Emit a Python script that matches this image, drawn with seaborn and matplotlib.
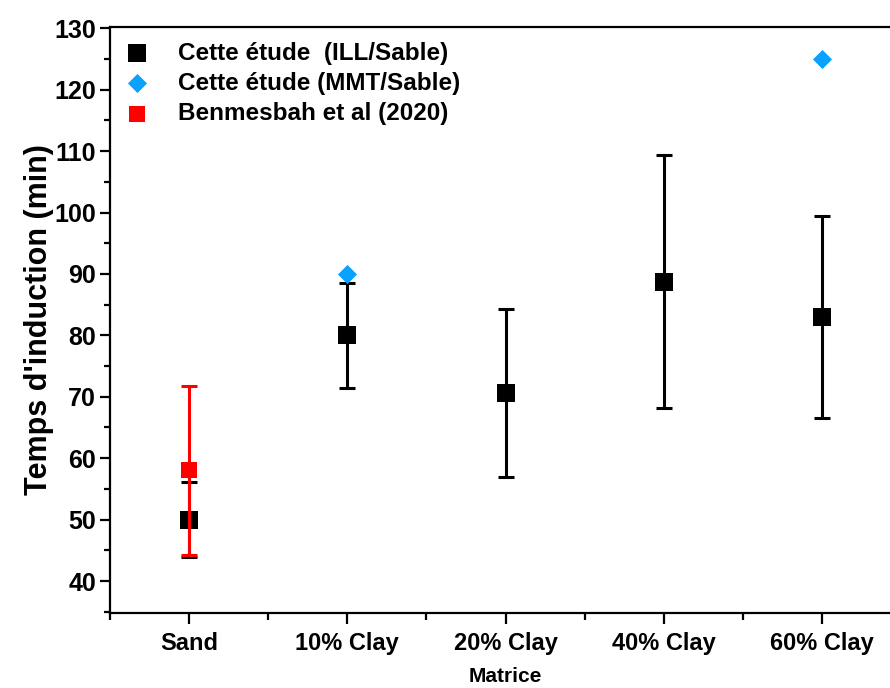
import matplotlib
matplotlib.use("Agg")
import matplotlib.pyplot as plt
import seaborn as sns
import pandas as pd
from matplotlib.ticker import MultipleLocator

# data
matrices = ["Sand", "10% Clay", "20% Clay", "40% Clay", "60% Clay"]
ill_mean = [50.0, 80.0, 70.6, 88.7, 83.0]
ill_err = [6.1, 8.5, 13.7, 20.6, 16.4]
mmt_matrices = ["10% Clay", "60% Clay"]
mmt_vals = [90.0, 125.0]
ref_matrices = ["Sand"]
ref_vals = [58.0]
ref_err = [13.8]

sns.set_theme(style="ticks")
plt.rcParams['font.family'] = ['Liberation Sans', 'DejaVu Sans']
plt.rcParams['font.weight'] = 'bold'
for key in ['text.color', 'axes.labelcolor', 'xtick.color', 'ytick.color', 'axes.edgecolor']:
    plt.rcParams[key] = 'black'

fig = plt.figure(figsize=(8.9, 6.88), dpi=100, facecolor='w')
ax = fig.add_axes([110 / 890, 75 / 688, 791 / 890, 586 / 688])

ill_df = pd.DataFrame({"Matrice": matrices, "temps": ill_mean, "err": ill_err})
mmt_df = pd.DataFrame({"Matrice": mmt_matrices, "temps": mmt_vals})
ref_df = pd.DataFrame({"Matrice": ref_matrices, "temps": ref_vals, "err": ref_err})

ax.errorbar(ill_df.Matrice, ill_df.temps, yerr=ill_df.err, fmt='none', ecolor='black',
            elinewidth=2.2, capsize=5.5, capthick=2.2, zorder=2)
sns.scatterplot(data=ill_df, x="Matrice", y="temps", marker='s', s=150, color='black',
                edgecolor='black', linewidth=0, ax=ax, zorder=3, label="Cette étude  (ILL/Sable)")
sns.scatterplot(data=mmt_df, x="Matrice", y="temps", marker='D', s=95, color='#0aa2ff',
                edgecolor='#0aa2ff', linewidth=0, ax=ax, zorder=3, label="Cette étude (MMT/Sable)")
ax.errorbar(ref_df.Matrice, ref_df.temps, yerr=ref_df.err, fmt='none', ecolor='#ff0000',
            elinewidth=2.2, capsize=5.5, capthick=2.2, zorder=4)
sns.scatterplot(data=ref_df, x="Matrice", y="temps", marker='s', s=130, color='#ff0000',
                edgecolor='#ff0000', linewidth=0, ax=ax, zorder=5, label="Benmesbah et al (2020)")

ax.set_xlim(-0.5, 4.5)
ax.set_ylim(34.8, 130.2)
ax.yaxis.set_major_locator(MultipleLocator(10))
ax.yaxis.set_minor_locator(MultipleLocator(5))
ax.xaxis.set_minor_locator(MultipleLocator(0.5))

ax.tick_params(axis='y', which='major', direction='out', length=7, width=1.6, labelsize=18, pad=3)
ax.tick_params(axis='y', which='minor', direction='out', length=4, width=1.6)
ax.tick_params(axis='x', which='major', direction='out', length=8, width=1.6, labelsize=17, pad=6)
ax.tick_params(axis='x', which='minor', direction='out', length=5, width=1.6)
for lab in ax.get_xticklabels() + ax.get_yticklabels():
    lab.set_fontweight('bold')

for sp in ax.spines.values():
    sp.set_linewidth(1.6)
    sp.set_color('black')

ax.set_xlabel("Matrice", fontsize=15, fontweight='bold', labelpad=8)
ax.set_ylabel("Temps d'induction (min)", fontsize=22, fontweight='bold', labelpad=0)

leg = ax.legend(loc='upper left', bbox_to_anchor=(0.0, 1.0), frameon=False,
                prop={'weight': 'bold', 'size': 17.5}, handlelength=1.0, handletextpad=1.2,
                labelspacing=0.3, borderaxespad=0.2)

fig.savefig("out.png", dpi=100, facecolor='w')
plt.close()
